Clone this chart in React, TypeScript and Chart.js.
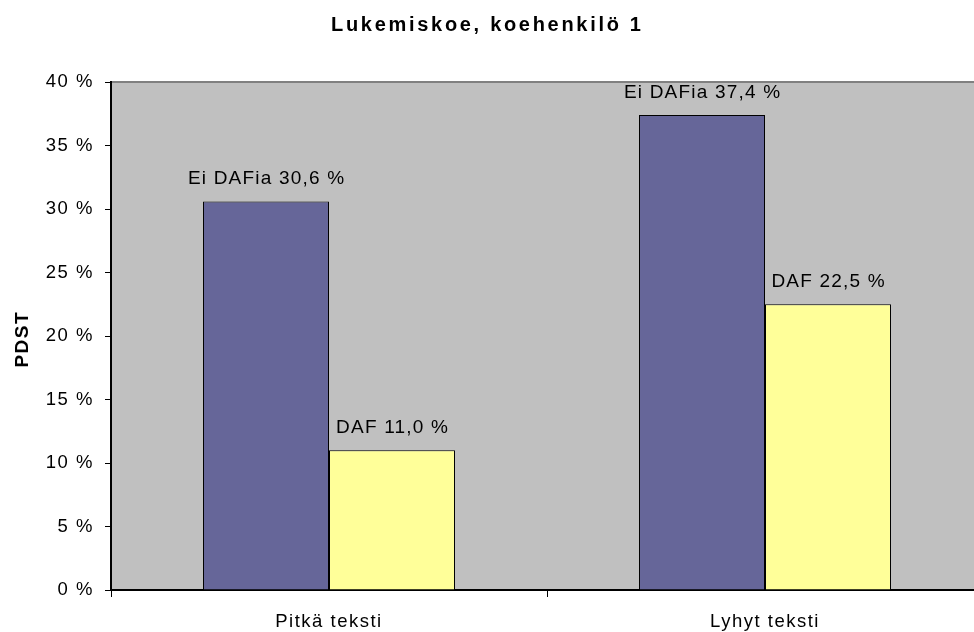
import React, { useEffect, useRef } from 'react';
import { Chart, registerables } from 'chart.js';

Chart.register(...registerables);

const chartTitle = 'Lukemiskoe, koehenkilö 1';
const yAxisTitle = 'PDST';
const categories = ['Pitkä teksti', 'Lyhyt teksti'];
const seriesNames = ['Ei DAFia', 'DAF'];
const eiDafValues = [30.6, 37.4];
const dafValues = [11.0, 22.5];
const yMin = 0;
const yMax = 40;
const yStep = 5;

const FONT = '"Liberation Sans", Arial, Helvetica, sans-serif';

const fmt = (v: number) => v.toFixed(1).replace('.', ',') + ' %';

const decorPlugin = {
  id: 'decor',
  beforeDraw(chart: any) {
    const { ctx, chartArea } = chart;
    ctx.save();
    ctx.fillStyle = '#C0C0C0';
    ctx.fillRect(chartArea.left, chartArea.top, chartArea.right - chartArea.left, chartArea.bottom - chartArea.top);
    ctx.strokeStyle = '#808080';
    ctx.lineWidth = 2;
    ctx.beginPath();
    ctx.moveTo(chartArea.left, chartArea.top);
    ctx.lineTo(chartArea.right, chartArea.top);
    ctx.lineTo(chartArea.right, chartArea.bottom);
    ctx.stroke();
    ctx.restore();
    ctx.letterSpacing = '1.5px';
  },
  afterDatasetsDraw(chart: any) {
    const { ctx } = chart;
    ctx.save();
    ctx.letterSpacing = '1.2px';
    ctx.font = `19px ${FONT}`;
    ctx.fillStyle = '#000';
    ctx.textAlign = 'center';
    ctx.textBaseline = 'alphabetic';
    chart.data.datasets.forEach((ds: any, di: number) => {
      const meta = chart.getDatasetMeta(di);
      meta.data.forEach((el: any, i: number) => {
        const text = `${ds.label} ${fmt(ds.data[i])}`;
        ctx.fillText(text, el.x + 0.6, el.y - 17);
      });
    });
    ctx.restore();
  },
  afterDraw(chart: any) {
    const { ctx } = chart;
    ctx.save();
    ctx.fillStyle = '#000';
    ctx.font = `bold 20px ${FONT}`;
    ctx.letterSpacing = '2.7px';
    ctx.textAlign = 'center';
    ctx.textBaseline = 'alphabetic';
    ctx.fillText(chartTitle, 486 + 1.35, 30.5);
    ctx.restore();

    ctx.save();
    ctx.fillStyle = '#000';
    ctx.font = `bold 19px ${FONT}`;
    ctx.letterSpacing = '1.5px';
    ctx.translate(22.5, 340);
    ctx.rotate(-Math.PI / 2);
    ctx.textAlign = 'center';
    ctx.textBaseline = 'middle';
    ctx.fillText(yAxisTitle, 0.75, 0);
    ctx.restore();
    ctx.letterSpacing = '0px';
  },
};

export default function App() {
  const ref = useRef<HTMLCanvasElement | null>(null);

  useEffect(() => {
    if (!ref.current) return;
    const chart = new Chart(ref.current, {
      type: 'bar',
      data: {
        labels: categories,
        datasets: [
          {
            label: seriesNames[0],
            data: eiDafValues,
            backgroundColor: '#666699',
            borderColor: '#000000',
            borderWidth: 1,
            categoryPercentage: 0.578,
            barPercentage: 1,
          },
          {
            label: seriesNames[1],
            data: dafValues,
            backgroundColor: '#FFFF99',
            borderColor: '#000000',
            borderWidth: 1,
            categoryPercentage: 0.578,
            barPercentage: 1,
          },
        ],
      },
      options: {
        responsive: false,
        animation: false,
        devicePixelRatio: 1,
        layout: { padding: { top: 82, right: 7, left: 0, bottom: 0 } },
        plugins: {
          legend: { display: false },
          title: { display: false },
          tooltip: { enabled: false },
        },
        scales: {
          x: {
            grid: { offset: true, drawOnChartArea: false, tickLength: 7, color: '#000000', lineWidth: 1 },
            border: { color: '#000000', width: 2 },
            ticks: { font: { family: FONT, size: 18.5 }, color: '#000000', padding: 14 },
            afterFit: (s: any) => {
              s.height = 42;
            },
          },
          y: {
            min: yMin,
            max: yMax,
            ticks: {
              stepSize: yStep,
              callback: (v: any) => `${v} %`,
              font: { family: FONT, size: 18.5 },
              color: '#000000',
              padding: 11,
            },
            grid: { drawOnChartArea: false, tickLength: 6, color: '#000000', lineWidth: 1 },
            border: { color: '#000000', width: 2 },
            afterFit: (s: any) => {
              s.width = 111;
            },
          },
        },
      },
      plugins: [decorPlugin],
    } as any);
    return () => chart.destroy();
  }, []);

  return (
    <div style={{ position: 'fixed', left: 0, top: 0, width: 990, height: 632, background: '#fff' }}>
      <canvas ref={ref} width={990} height={632} style={{ display: 'block', width: 990, height: 632 }} />
    </div>
  );
}
